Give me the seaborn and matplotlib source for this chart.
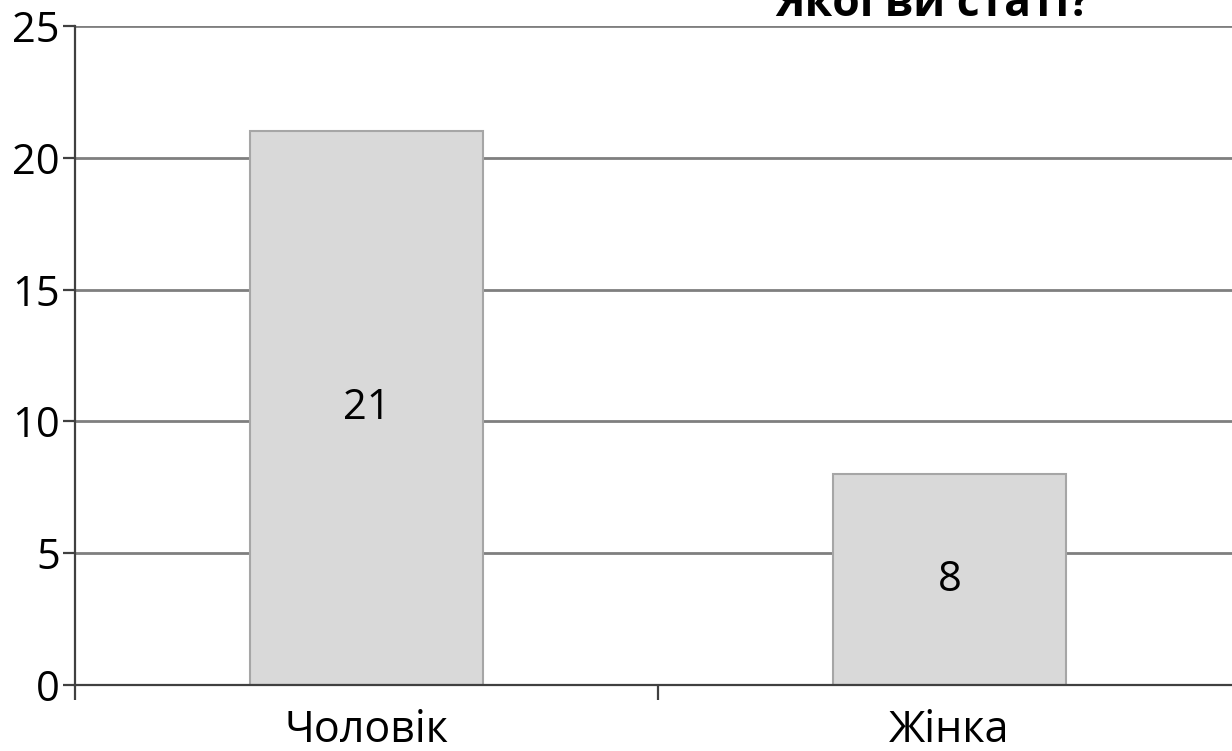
import matplotlib
matplotlib.use("Agg")
import matplotlib.pyplot as plt
import seaborn as sns
import pandas as pd
from matplotlib.ticker import FixedLocator

categories = ["Чоловік", "Жінка"]
values = [21, 8]
title = "Якої ви статі?"

sns.set_theme(style="white")
plt.rcParams["font.family"] = ["Open Sans", "DejaVu Sans"]

df = pd.DataFrame({"cat": categories, "val": values})

fig = plt.figure(figsize=(12.32, 7.51), dpi=100)
ax = fig.add_axes([75 / 1232, 1 - 685 / 751, (1241 - 75) / 1232, (685 - 26) / 751])

sns.barplot(data=df, x="cat", y="val", ax=ax, width=0.4, color="#d9d9d9",
            edgecolor="#a6a6a6", linewidth=1.5, saturation=1)

ax.set_xlim(-0.5, 1.5)
ax.set_ylim(0, 25)
ax.set_yticks([0, 5, 10, 15, 20, 25])
ax.yaxis.grid(True, color="#7f7f7f", linewidth=2)
ax.set_axisbelow(True)
ax.set_xlabel("")
ax.set_ylabel("")

for s in ["top", "right"]:
    ax.spines[s].set_visible(False)
for s in ["left", "bottom"]:
    ax.spines[s].set_color("#404040")
    ax.spines[s].set_linewidth(1.6)

ax.tick_params(axis="y", which="major", length=9, width=1.6, color="#404040",
               labelsize=30, pad=2, left=True, labelcolor="#000000")
ax.tick_params(axis="x", which="major", length=0, labelsize=31, pad=17,
               labelcolor="#000000")
ax.xaxis.set_minor_locator(FixedLocator([-0.5, 0.5, 1.5]))
ax.tick_params(axis="x", which="minor", length=11, width=1.6, color="#404040", bottom=True)

for cont in ax.containers:
    ax.bar_label(cont, labels=[str(v) for v in values], label_type="center",
                 fontsize=30, color="#000000")

fig.text(933 / 1232, 1 - 16 / 751, title, ha="center", va="baseline",
         fontsize=32, fontweight="bold", color="#000000")

fig.savefig("out.png", dpi=100)
